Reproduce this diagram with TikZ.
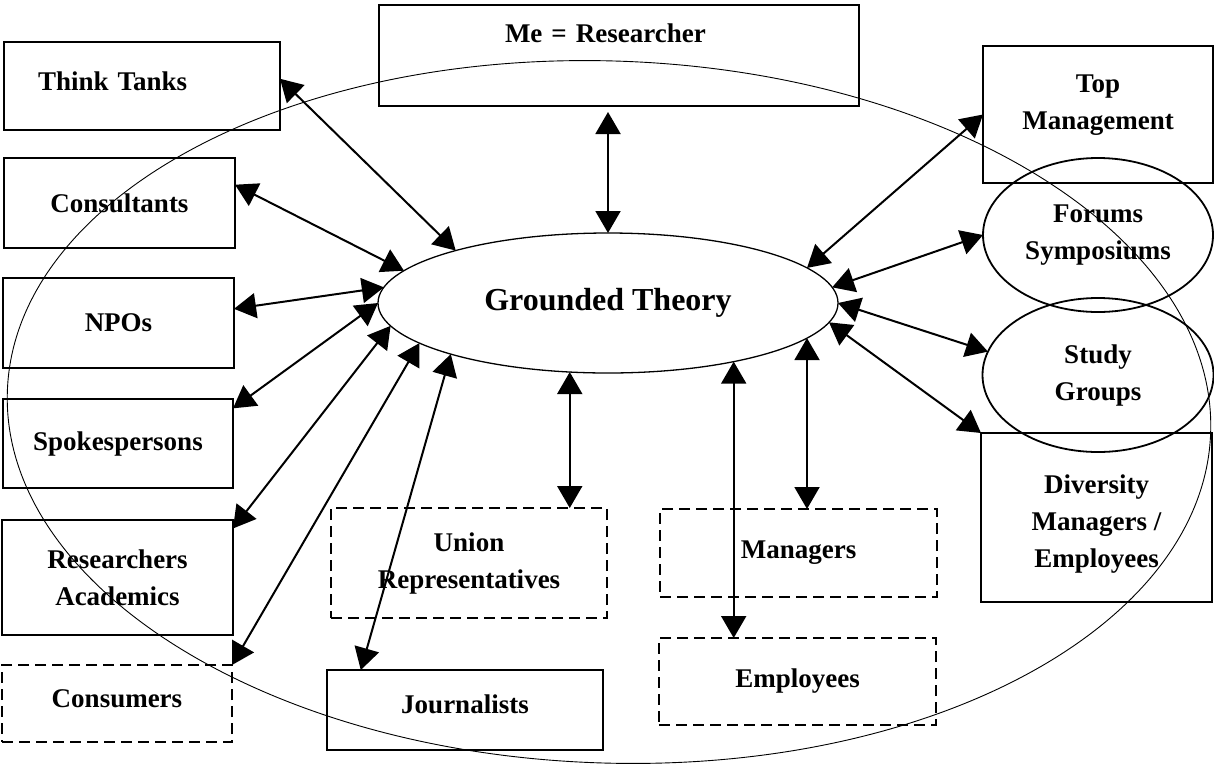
\documentclass[tikz,border=0pt]{standalone}
\usepackage{fontspec}
\setmainfont{Liberation Serif}
\usetikzlibrary{arrows.meta,shapes.geometric}

\begin{document}
\begin{tikzpicture}[
  x=1pt,y=-1pt,>={Triangle[length=22pt,width=25pt]},
  party/.style={draw,line width=1.8pt,inner sep=4pt,outer sep=0pt,align=center,
    font=\fontsize{27}{37}\selectfont\bfseries},
  maybe/.style={party,dash pattern=on 11pt off 6pt},
  forum/.style={party,ellipse,inner sep=1pt},
  core/.style={draw,ellipse,line width=1.3pt,inner sep=2pt,outer sep=0pt,
    font=\fontsize{32}{38}\selectfont\bfseries},
  field/.style={draw,line width=.9pt},
  link/.style={<->,line width=2pt}
]
\useasboundingbox (0,0) rectangle (1214,764);

\draw[field,rotate around={-2:(609,412)}] (609,412)
  ellipse [x radius=602,y radius=351];

\node[core,minimum width=460pt,minimum height=140pt] (gt) at (608,303)
  {Grounded Theory};

\node[party,minimum width=480pt,minimum height=101pt,text width=228pt,
  inner xsep=126pt,align=left,text depth=45pt] (me) at (619,55.5)
  {Me = Researcher};

% left column
\node[party,minimum width=276pt,minimum height=88pt,text width=208pt,
  inner xsep=34pt,align=left,text depth=9pt] (tt) at (142,86) {Think Tanks};
\node[party,minimum width=231pt,minimum height=90pt] (cons) at (119.5,203)
  {Consultants};
\node[party,minimum width=231pt,minimum height=90pt] (npo) at (118.5,323)
  {NPOs};
\node[party,minimum width=230pt,minimum height=89pt] (spk) at (118,443.5)
  {Spokespersons};
\node[party,minimum width=231pt,minimum height=115pt] (res) at (117.5,577.5)
  {Researchers\\Academics};
\node[maybe,minimum width=230pt,minimum height=77pt,text depth=9pt] (cnsm)
  at (117,703.5) {Consumers};

% bottom row
\node[party,minimum width=276pt,minimum height=80pt,text depth=12pt] (jour)
  at (465,710) {Journalists};
\node[maybe,minimum width=276pt,minimum height=110pt] (uni) at (469,563)
  {Union\\Representatives};
\node[maybe,minimum width=277pt,minimum height=88pt] (mgr) at (798.5,553)
  {Managers};
\node[maybe,minimum width=277pt,minimum height=87pt] (emp) at (797.5,681.5)
  {Employees};

% right column
\node[party,minimum width=230pt,minimum height=137pt,text depth=24pt] (topm)
  at (1098,114.5) {Top\\Management};
\node[forum,minimum width=230pt,minimum height=154pt] (fs) at (1098,235)
  {Forums\\Symposiums};
\node[forum,minimum width=231pt,minimum height=154pt] (sg) at (1098,375)
  {Study\\Groups};
\node[party,minimum width=231pt,minimum height=169pt,text height=105pt]
  (div) at (1096.5,517.5) {Diversity\\Managers /\\Employees};

\foreach \a/\b in {tt.3/gt.161,cons.9/gt.171,npo.7/gt.176,spk.17/gt.180,
  res.23/gt.186,cnsm.north east/gt.192,jour.159/gt.198,topm.west/gt.10,
  fs.west/gt.4,sg.168/gt.0,div.north west/gt.355}
  \draw[link] (\a) -- (\b);
\draw[link,shorten >=6pt] (gt.90) -- (gt.90 |- me.south);
\foreach \a/\b in {241/uni,350/mgr,335/emp}
  \draw[link] (gt.\a) -- (gt.\a |- \b.north);
\end{tikzpicture}
\end{document}
